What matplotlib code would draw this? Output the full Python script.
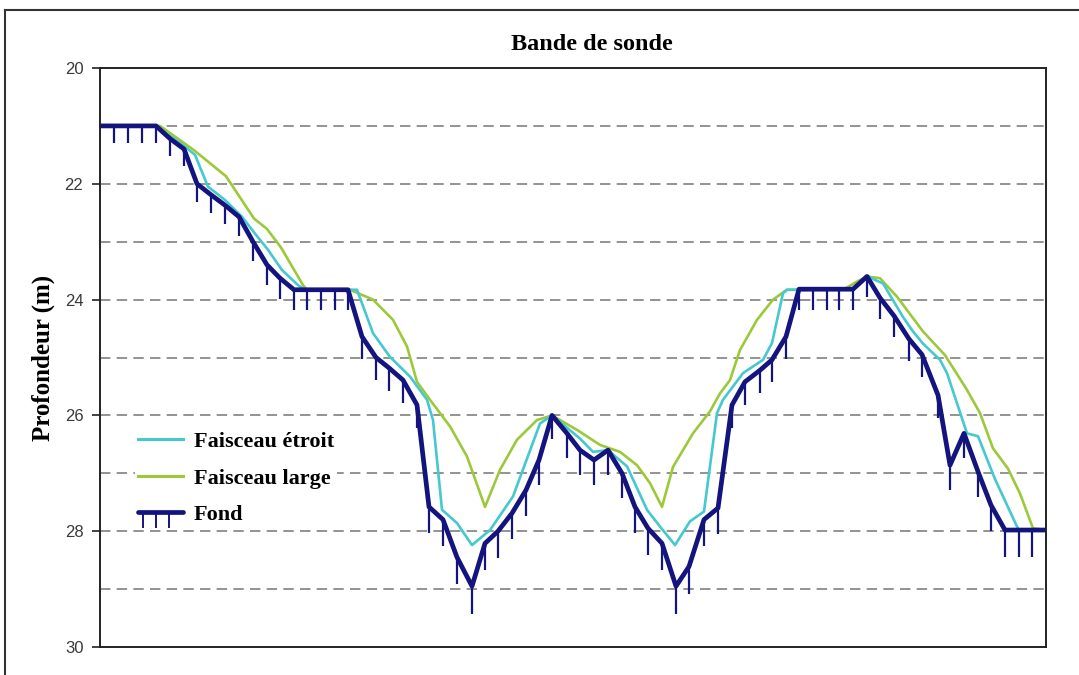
import matplotlib
matplotlib.use("Agg")
import matplotlib.pyplot as plt
from matplotlib.lines import Line2D
from matplotlib.legend_handler import HandlerBase

# ---------------- data ----------------
fond_x = [0.0, 1.4, 2.8, 4.2, 5.6, 7.0, 8.4, 9.7, 11.1, 12.5, 13.9, 15.3, 16.7, 18.0,
          19.4, 20.7, 22.1, 23.5, 24.8, 26.2, 27.6, 28.9, 30.3, 31.7, 32.9, 34.3, 35.7,
          37.2, 38.5, 39.8, 41.2, 42.6, 43.9, 45.2, 46.7, 48.0, 49.4, 50.8, 52.2, 53.5,
          54.8, 56.2, 57.6, 58.9, 60.4, 61.8, 63.2, 64.5, 66.0, 67.2, 68.6, 69.9, 71.3,
          72.7, 73.9, 75.3, 76.7, 78.0, 79.4, 80.9, 82.2, 83.8, 85.0, 86.4, 87.8, 89.1,
          90.5, 91.9, 93.2, 94.6]
fond_y = [21.0, 21.0, 21.0, 21.0, 21.0, 21.22, 21.4, 22.0, 22.19, 22.37, 22.57, 23.0,
          23.4, 23.63, 23.83, 23.83, 23.83, 23.83, 23.83, 24.64, 25.0, 25.18, 25.39,
          25.82, 27.58, 27.8, 28.45, 28.95, 28.21, 28.0, 27.69, 27.29, 26.77, 26.0,
          26.31, 26.6, 26.77, 26.6, 27.0, 27.58, 27.95, 28.21, 28.95, 28.61, 27.8,
          27.6, 25.82, 25.42, 25.22, 25.04, 24.64, 23.82, 23.82, 23.82, 23.82, 23.82,
          23.6, 23.97, 24.28, 24.68, 24.95, 25.65, 26.86, 26.31, 26.97, 27.55, 27.98,
          27.98, 27.98, 27.98]

etroit_x = [0.0, 5.6, 8.5, 9.5, 10.8, 12.5, 14.2, 15.5, 16.8, 18.2, 19.8, 20.5, 25.7,
            27.3, 29.0, 31.0, 32.7, 33.3, 34.2, 35.7, 37.2, 39.0, 41.3, 44.0, 45.2,
            48.0, 49.3, 50.8, 52.7, 54.7, 56.0, 57.5, 59.0, 60.4, 61.7, 62.3, 64.3,
            66.3, 67.2, 68.3, 68.7, 75.3, 76.7, 78.3, 80.3, 81.3, 82.3, 84.0, 84.7,
            86.7, 87.8, 89.5, 91.7, 91.9, 94.6]
etroit_y = [21.0, 21.0, 21.36, 21.5, 22.05, 22.28, 22.57, 22.86, 23.14, 23.49, 23.75,
            23.83, 23.83, 24.58, 24.99, 25.33, 25.73, 26.08, 27.63, 27.86, 28.24, 27.98,
            27.4, 26.14, 26.0, 26.4, 26.63, 26.6, 26.88, 27.63, 27.92, 28.24, 27.83,
            27.66, 25.96, 25.73, 25.27, 25.04, 24.75, 23.89, 23.83, 23.83, 23.6, 23.72,
            24.30, 24.55, 24.76, 25.04, 25.27, 26.31, 26.36, 27.1, 27.92, 27.98, 27.98]

large_x = [0.0, 6.0, 9.4, 12.6, 15.4, 16.7, 18.1, 20.3, 20.7, 25.0, 27.3, 29.3, 30.7,
           31.7, 33.0, 35.0, 36.7, 38.5, 40.0, 41.7, 43.7, 45.2, 47.7, 50.0, 52.0, 53.7,
           55.0, 56.2, 57.3, 59.3, 61.0, 62.0, 63.0, 64.0, 65.7, 67.3, 68.7, 74.3, 75.7,
           76.7, 78.0, 79.7, 82.3, 84.5, 86.7, 88.0, 89.3, 90.8, 92.0, 93.3, 94.6]
large_y = [21.0, 21.0, 21.42, 21.87, 22.6, 22.78, 23.1, 23.75, 23.83, 23.83, 24.0, 24.35,
           24.81, 25.42, 25.73, 26.19, 26.71, 27.58, 26.94, 26.42, 26.08, 26.0, 26.25,
           26.51, 26.63, 26.86, 27.17, 27.58, 26.89, 26.31, 25.93, 25.62, 25.39, 24.87,
           24.35, 24.0, 23.83, 23.83, 23.69, 23.6, 23.63, 23.95, 24.55, 24.96, 25.56,
           25.96, 26.57, 26.92, 27.35, 27.95, 27.98]

y_ticks = [20, 22, 24, 26, 28, 30]
y_grid = [21, 22, 23, 24, 25, 26, 27, 28, 29]

title = "Bande de sonde"
ylabel = "Profondeur (m)"
labels = ["Faisceau étroit", "Faisceau large", "Fond"]

# ---------------- style ----------------
NAVY = "#14147e"
CYAN = "#45c8cf"
GREEN = "#9cc93a"
SERIF = ["Liberation Serif", "DejaVu Serif"]
plt.rcParams["lines.scale_dashes"] = False

W, H = 1079, 675
fig = plt.figure(figsize=(W / 100, H / 100), dpi=100)
ax = fig.add_axes([100 / W, 1 - 647 / H, (1046 - 100) / W, (647 - 68) / H])

ax.set_xlim(0, 94.6)
ax.set_ylim(30, 20)

# grid
for g in y_grid:
    ax.axhline(g, color="#8a8a8a", lw=1.3, dashes=(7.5, 4.5), zorder=1)

ax.plot(large_x, large_y, color=GREEN, lw=1.9, zorder=2, solid_joinstyle="round")
ax.plot(etroit_x, etroit_y, color=CYAN, lw=1.9, zorder=3, solid_joinstyle="round")

# fond with hanging ticks
tx = fond_x[1:-1]
ty = fond_y[1:-1]
tl = [0.29 + 0.024 * (v - 21) for v in ty]
ax.vlines(tx, ty, [a + b for a, b in zip(ty, tl)], color=NAVY, lw=1.6, zorder=4)
ax.plot(fond_x, fond_y, color=NAVY, lw=3.4, zorder=5, solid_joinstyle="round",
        solid_capstyle="butt")

# axes styling
ax.set_xticks([])
ax.set_yticks(y_ticks)
ax.set_yticklabels([str(t) for t in y_ticks], family="Liberation Sans", fontsize=12,
                   color="#3a3a3a")
ax.tick_params(axis="y", direction="out", length=6, width=1.2, pad=6, color="#222222")
for s in ax.spines.values():
    s.set_linewidth(1.4)
    s.set_color("#222222")
    s.set_zorder(6)

ax.set_ylabel(ylabel, family=SERIF, fontweight="bold", fontsize=18, labelpad=7)
fig.text(592 / W, 1 - 45 / H, title, family=SERIF, fontweight="bold", fontsize=17.5,
         ha="center", va="center")


# legend
class HandlerFond(HandlerBase):
    def create_artists(self, legend, orig_handle, xdescent, ydescent, width, height,
                       fontsize, trans):
        yc = height / 2 - ydescent
        x0 = -xdescent
        arts = [Line2D([x0, x0 + width], [yc, yc], color=NAVY, lw=3.4, transform=trans,
                       solid_capstyle="round")]
        for f in (0.1, 0.4, 0.7):
            xx = x0 + f * width
            arts.append(Line2D([xx, xx], [yc, yc - 0.95 * height], color=NAVY, lw=1.4,
                               transform=trans))
        return arts


h1 = Line2D([], [], color=CYAN, lw=2.2)
h2 = Line2D([], [], color=GREEN, lw=2.2)
h3 = Line2D([], [], color=NAVY, lw=3.4)
leg = ax.legend([h1, h2, h3], labels, handler_map={h3: HandlerFond()},
                loc="upper left", bbox_to_anchor=(0.037, 0.378), borderaxespad=0,
                borderpad=0.15, frameon=True, facecolor="white", edgecolor="none",
                framealpha=1, fancybox=False, handlelength=2.0, handletextpad=0.5,
                labelspacing=0.72,
                prop={"family": SERIF, "weight": "bold", "size": 16})
leg.set_zorder(7)

# outer border of the picture
fig.add_artist(Line2D([5 / W, 5 / W], [0, 1 - 10 / H], transform=fig.transFigure,
                      color="#333333", lw=1.5))
fig.add_artist(Line2D([5 / W, 1], [1 - 10 / H, 1 - 10 / H], transform=fig.transFigure,
                      color="#333333", lw=1.5))

fig.savefig("out.png", dpi=100)
